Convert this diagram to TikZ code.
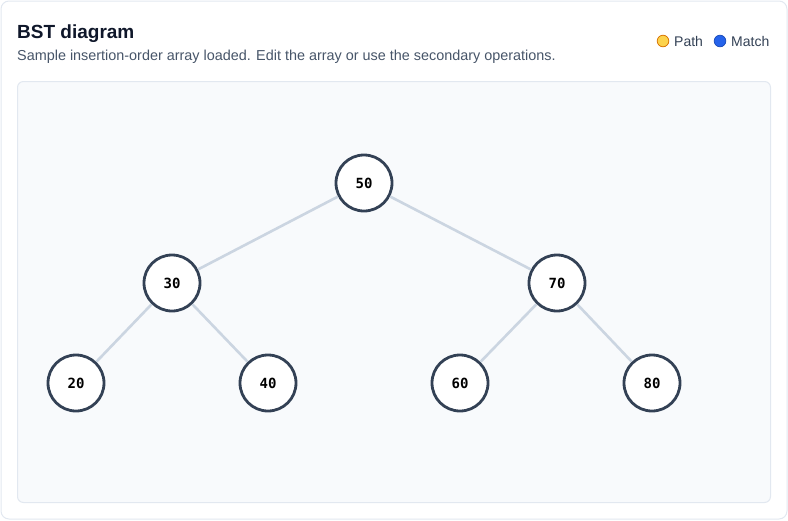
\documentclass[tikz,border=0pt]{standalone}
\usepackage{fontspec}
\setmainfont{Liberation Sans}
\newfontfamily\monofont{DejaVu Sans Mono}
\usepackage{tikz}
\usetikzlibrary{calc}
\definecolor{card}{RGB}{226, 232, 240}
\definecolor{panel}{RGB}{248, 250, 252}
\definecolor{edge}{RGB}{203, 213, 225}
\definecolor{ring}{RGB}{51, 65, 85}
\definecolor{title}{RGB}{15, 23, 42}
\definecolor{subtle}{RGB}{71, 85, 105}
\definecolor{pathfill}{RGB}{252, 211, 77}
\definecolor{pathline}{RGB}{217, 119, 6}
\definecolor{matchfill}{RGB}{37, 99, 235}

\begin{document}
\begin{tikzpicture}[x=1pt, y=-1pt,
    bst/.style={circle, draw=ring, line width=2.8pt, fill=white,
      minimum size=56pt, inner sep=0pt,
      font=\monofont\bfseries\fontsize{14}{14}\selectfont},
    link/.style={draw=edge, line width=2.6pt}]
  \useasboundingbox (0, 0) rectangle (788, 520);
  \draw[card, fill=white, rounded corners=8pt, line width=1pt] (1, 1) rectangle (787, 519);
  \draw[card, fill=panel, rounded corners=6pt, line width=1pt] (17.5, 81.5) rectangle (770.5, 502.5);

  % Heading
  \node[anchor=base west, inner sep=0pt, text=title, font=\bfseries\fontsize{19}{19}\selectfont]
    (head) at (17, 38) {BST diagram};
  \node[anchor=base west, inner sep=0pt, text=subtle, font=\fontsize{14.4}{14.4}\selectfont]
    (sub) at (17, 60) {Sample insertion-order array loaded. Edit the array or use the secondary operations.};

  % Legend
  \fill[pathfill, draw=pathline, line width=0.8pt] (663, 41) circle (5.8pt);
  \node[anchor=west, inner sep=0pt, text=ring, font=\fontsize{14}{14}\selectfont]
    (path) at (674, 41) {Path};
  \fill[matchfill, draw=matchfill!80!black, line width=0.8pt] (720, 41) circle (5.8pt);
  \node[anchor=west, inner sep=0pt, text=ring, font=\fontsize{14}{14}\selectfont]
    (match) at (731, 41) {Match};

  % Tree
  \node[bst] (n50) at (364, 183) {50};
  \node[bst] (n30) at (172, 283) {30};
  \node[bst] (n70) at (557, 283) {70};
  \node[bst] (n20) at (76, 383) {20};
  \node[bst] (n40) at (268, 383) {40};
  \node[bst] (n60) at (460, 383) {60};
  \node[bst] (n80) at (652, 383) {80};

  \foreach \a/\b in {n50/n30, n50/n70, n30/n20, n30/n40, n70/n60, n70/n80} {
    \draw[link] (\a) -- (\b);
  }
\end{tikzpicture}
\end{document}
